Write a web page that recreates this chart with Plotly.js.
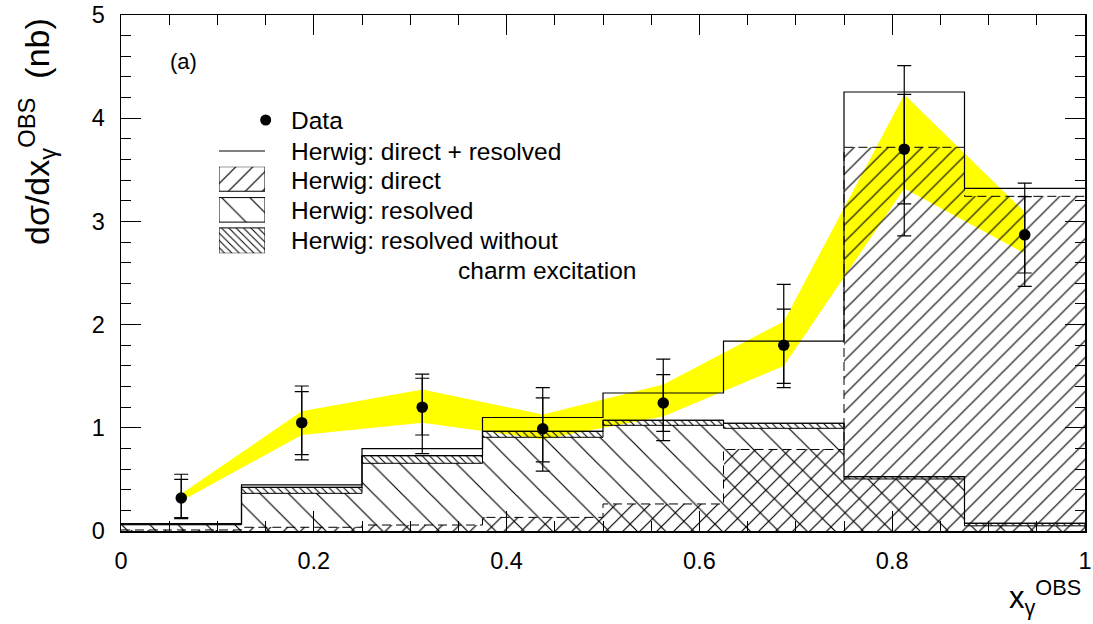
<!DOCTYPE html>
<html>
<head>
<meta charset="utf-8">
<script src="https://cdn.plot.ly/plotly-3.0.1.min.js"></script>
<style>html,body{margin:0;padding:0;background:#fff;}</style>
</head>
<body>
<div id="chart" style="width:1093px;height:624px;"></div>
<script>
// Binning in x_gamma^OBS
const binEdges = [0, 0.125, 0.25, 0.375, 0.5, 0.625, 0.75, 0.875, 1];
const binCenters = [0.0625, 0.1875, 0.3125, 0.4375, 0.5625, 0.6875, 0.8125, 0.9375];

// Measured cross section (nb) with statistical and total uncertainties
const dataXsec = [0.32, 1.05, 1.20, 0.99, 1.24, 1.80, 3.70, 2.87];
const statErrUp = [0.18, 0.30, 0.28, 0.30, 0.275, 0.35, 0.53, 0.37];
const statErrDown = [0.19, 0.31, 0.27, 0.32, 0.275, 0.37, 0.53, 0.37];
const totErrUp = [0.23, 0.355, 0.32, 0.40, 0.425, 0.59, 0.81, 0.50];
const totErrDown = [0.20, 0.36, 0.45, 0.41, 0.365, 0.41, 0.84, 0.50];

// Energy-scale uncertainty band
const bandUpper = [0.36, 1.16, 1.37, 1.13, 1.42, 2.03, 4.23, 3.09];
const bandLower = [0.29, 0.93, 1.05, 0.89, 1.11, 1.60, 3.32, 2.69];

// Herwig predictions
const herwigTotal = [0.07, 0.446, 0.798, 1.10, 1.337, 1.84, 4.254, 3.32];
const herwigDirect = [0.01, 0.036, 0.058, 0.132, 0.262, 0.79, 3.718, 3.243];
const herwigResolved = [0.07, 0.423, 0.730, 0.966, 1.073, 1.044, 0.526, 0.075];
const herwigResolvedNoCE = [0.06, 0.365, 0.656, 0.908, 1.024, 0.995, 0.504, 0.05];

// Axis ticks
const xTickVals = [0, 0.2, 0.4, 0.6, 0.8, 1];
const xTickText = ['0', '0.2', '0.4', '0.6', '0.8', '1'];
const yTickVals = [0, 1, 2, 3, 4, 5];
const yTickText = ['0', '1', '2', '3', '4', '5'];

// Legend texts
const legendLabels = ['Data', 'Herwig: direct + resolved', 'Herwig: direct',
  'Herwig: resolved', 'Herwig: resolved without', 'charm excitation'];

const FONT = 'Liberation Sans, Arial, Helvetica, sans-serif';
const binWidth = binEdges[1] - binEdges[0];
const widths = binCenters.map(() => binWidth);
const step = arr => arr.concat([arr[arr.length - 1]]);
const diff = (a, b) => a.map((v, i) => v - b[i]);

const hatch = (shape, size, solidity) => ({
  shape: shape, size: size, solidity: solidity,
  fgcolor: '#000', bgcolor: 'rgba(0,0,0,0)', fillmode: 'replace'
});
const HATCH_DIRECT = hatch('/', 12, 0.1);
const HATCH_RES = hatch('\\', 20, 0.06);
const HATCH_NOCE = hatch('\\', 5.2, 0.2);

const traces = [
  // direct component, hatched '/'
  { type: 'bar', x: binCenters, y: herwigDirect, width: widths, base: 0,
    marker: { color: 'rgba(0,0,0,0)', line: { width: 0 }, pattern: HATCH_DIRECT },
    hoverinfo: 'skip', showlegend: false },
  // resolved component, sparse '\'
  { type: 'bar', x: binCenters, y: herwigResolvedNoCE, width: widths, base: 0,
    marker: { color: 'rgba(0,0,0,0)', line: { width: 0 }, pattern: HATCH_RES },
    hoverinfo: 'skip', showlegend: false },
  // strip between resolved without charm excitation and full resolved
  { type: 'bar', x: binCenters, y: diff(herwigResolved, herwigResolvedNoCE), width: widths,
    base: herwigResolvedNoCE,
    marker: { color: 'rgba(0,0,0,0)', line: { width: 1, color: '#000' }, pattern: HATCH_NOCE },
    hoverinfo: 'skip', showlegend: false },
  // outlines
  { type: 'scatter', mode: 'lines', x: binEdges, y: step(herwigDirect),
    line: { shape: 'hv', color: '#000', width: 1, dash: '9px,5px' },
    hoverinfo: 'skip', showlegend: false },
  { type: 'scatter', mode: 'lines', x: binEdges, y: step(herwigResolved),
    line: { shape: 'hv', color: '#000', width: 1.2 },
    hoverinfo: 'skip', showlegend: false },
  { type: 'scatter', mode: 'lines', x: binEdges, y: step(herwigTotal),
    line: { shape: 'hv', color: '#000', width: 1.2 },
    hoverinfo: 'skip', showlegend: false },
  // total uncertainty
  { type: 'scatter', mode: 'markers', x: binCenters, y: dataXsec,
    marker: { size: 1, color: 'rgba(0,0,0,0)' },
    error_y: { type: 'data', symmetric: false, array: totErrUp, arrayminus: totErrDown,
      color: '#000', thickness: 1.2, width: 7 },
    hoverinfo: 'skip', showlegend: false },
  // data with statistical uncertainty
  { type: 'scatter', mode: 'markers', x: binCenters, y: dataXsec,
    marker: { size: 11.5, color: '#000' },
    error_y: { type: 'data', symmetric: false, array: statErrUp, arrayminus: statErrDown,
      color: '#000', thickness: 1.2, width: 7 },
    showlegend: false },
  // legend swatches (drawn on a hidden helper axis)
  { type: 'bar', x: [0.5], y: [0.85], base: [2.15], width: [1], xaxis: 'x2', yaxis: 'y2',
    marker: { color: 'rgba(0,0,0,0)', line: { width: 1, color: '#000' }, pattern: HATCH_DIRECT },
    hoverinfo: 'skip', showlegend: false },
  { type: 'bar', x: [0.5], y: [0.85], base: [1.08], width: [1], xaxis: 'x2', yaxis: 'y2',
    marker: { color: 'rgba(0,0,0,0)', line: { width: 1, color: '#000' }, pattern: HATCH_RES },
    hoverinfo: 'skip', showlegend: false },
  { type: 'bar', x: [0.5], y: [0.88], base: [0], width: [1], xaxis: 'x2', yaxis: 'y2',
    marker: { color: 'rgba(0,0,0,0)', line: { width: 1, color: '#000' }, pattern: HATCH_NOCE },
    hoverinfo: 'skip', showlegend: false }
];

// yellow band polygon in data coordinates
let bandPath = 'M' + binCenters.map((x, i) => x + ',' + bandUpper[i]).join('L');
for (let i = binCenters.length - 1; i >= 0; i--) bandPath += 'L' + binCenters[i] + ',' + bandLower[i];
bandPath += 'Z';

// paper-coordinate helpers for the 1093x624 canvas
const M = { l: 121, r: 8, t: 15, b: 93 };
const PW = 1093 - M.l - M.r, PH = 624 - M.t - M.b;
const px = v => (v - M.l) / PW;
const py = v => (624 - M.b - v) / PH;

const legendText = (text, x, y) => ({
  xref: 'paper', yref: 'paper', x: px(x), y: py(y), xanchor: 'left', yanchor: 'middle',
  text: text, showarrow: false, font: { family: FONT, size: 24.5, color: '#000' }
});

const axisCommon = {
  showgrid: false, zeroline: false, showline: true, linecolor: '#000', linewidth: 1.5,
  mirror: 'allticks', ticks: 'inside', ticklen: 20, tickwidth: 1, tickcolor: '#000',
  tickfont: { family: FONT, size: 23.5, color: '#000' }
};

const layout = {
  width: 1093, height: 624,
  margin: M,
  paper_bgcolor: '#fff', plot_bgcolor: '#fff',
  barmode: 'overlay', bargap: 0,
  showlegend: false,
  xaxis: Object.assign({}, axisCommon, {
    range: [0, 1], tickvals: xTickVals, ticktext: xTickText, ticklabelstandoff: 8,
    minor: { dtick: 0.05, ticklen: 10, tickwidth: 1, tickcolor: '#000', ticks: 'inside' }
  }),
  yaxis: Object.assign({}, axisCommon, {
    range: [0, 5], tickvals: yTickVals, ticktext: yTickText, ticklabelstandoff: 10,
    minor: { dtick: 0.2, ticklen: 10, tickwidth: 1, tickcolor: '#000', ticks: 'inside' }
  }),
  xaxis2: { domain: [px(219), px(265)], range: [0, 1], visible: false, anchor: 'y2', fixedrange: true },
  yaxis2: { domain: [py(253.3), py(166.7)], range: [0, 3], visible: false, anchor: 'x2', fixedrange: true },
  shapes: [
    { type: 'path', path: bandPath, xref: 'x', yref: 'y', layer: 'below',
      fillcolor: '#ffff00', line: { width: 0 } },
    { type: 'line', xref: 'paper', yref: 'paper', x0: px(219), x1: px(265), y0: py(151), y1: py(151),
      line: { color: '#000', width: 1.2 } },
    { type: 'circle', xref: 'paper', yref: 'paper', xsizemode: 'pixel', ysizemode: 'pixel',
      xanchor: px(265.7), yanchor: py(120), x0: -5.5, x1: 5.5, y0: -5.5, y1: 5.5,
      fillcolor: '#000', line: { width: 0 } }
  ],
  annotations: [
    legendText(legendLabels[0], 289, 120),
    legendText(legendLabels[1], 289, 151),
    legendText(legendLabels[2], 289, 180.5),
    legendText(legendLabels[3], 289, 210),
    legendText(legendLabels[4], 289, 240),
    legendText(legendLabels[5], 456, 270),
    { xref: 'paper', yref: 'paper', x: px(183), y: py(61), xanchor: 'center', yanchor: 'middle',
      text: '(a)', showarrow: false, font: { family: FONT, size: 22, color: '#000' } },
    { xref: 'paper', yref: 'paper', x: px(37), y: py(132), xanchor: 'center', yanchor: 'middle',
      textangle: -90, showarrow: false,
      text: 'dσ/dx<sub>γ</sub><sup>OBS</sup>  (nb)',
      font: { family: FONT, size: 34, color: '#000' } },
    { xref: 'paper', yref: 'paper', x: px(1007), y: py(597), xanchor: 'left', yanchor: 'middle',
      showarrow: false, text: 'x<sub>γ</sub><sup>OBS</sup>',
      font: { family: FONT, size: 31, color: '#000' } }
  ]
};

Plotly.newPlot('chart', traces, layout, { staticPlot: true, displayModeBar: false });
</script>
</body>
</html>
